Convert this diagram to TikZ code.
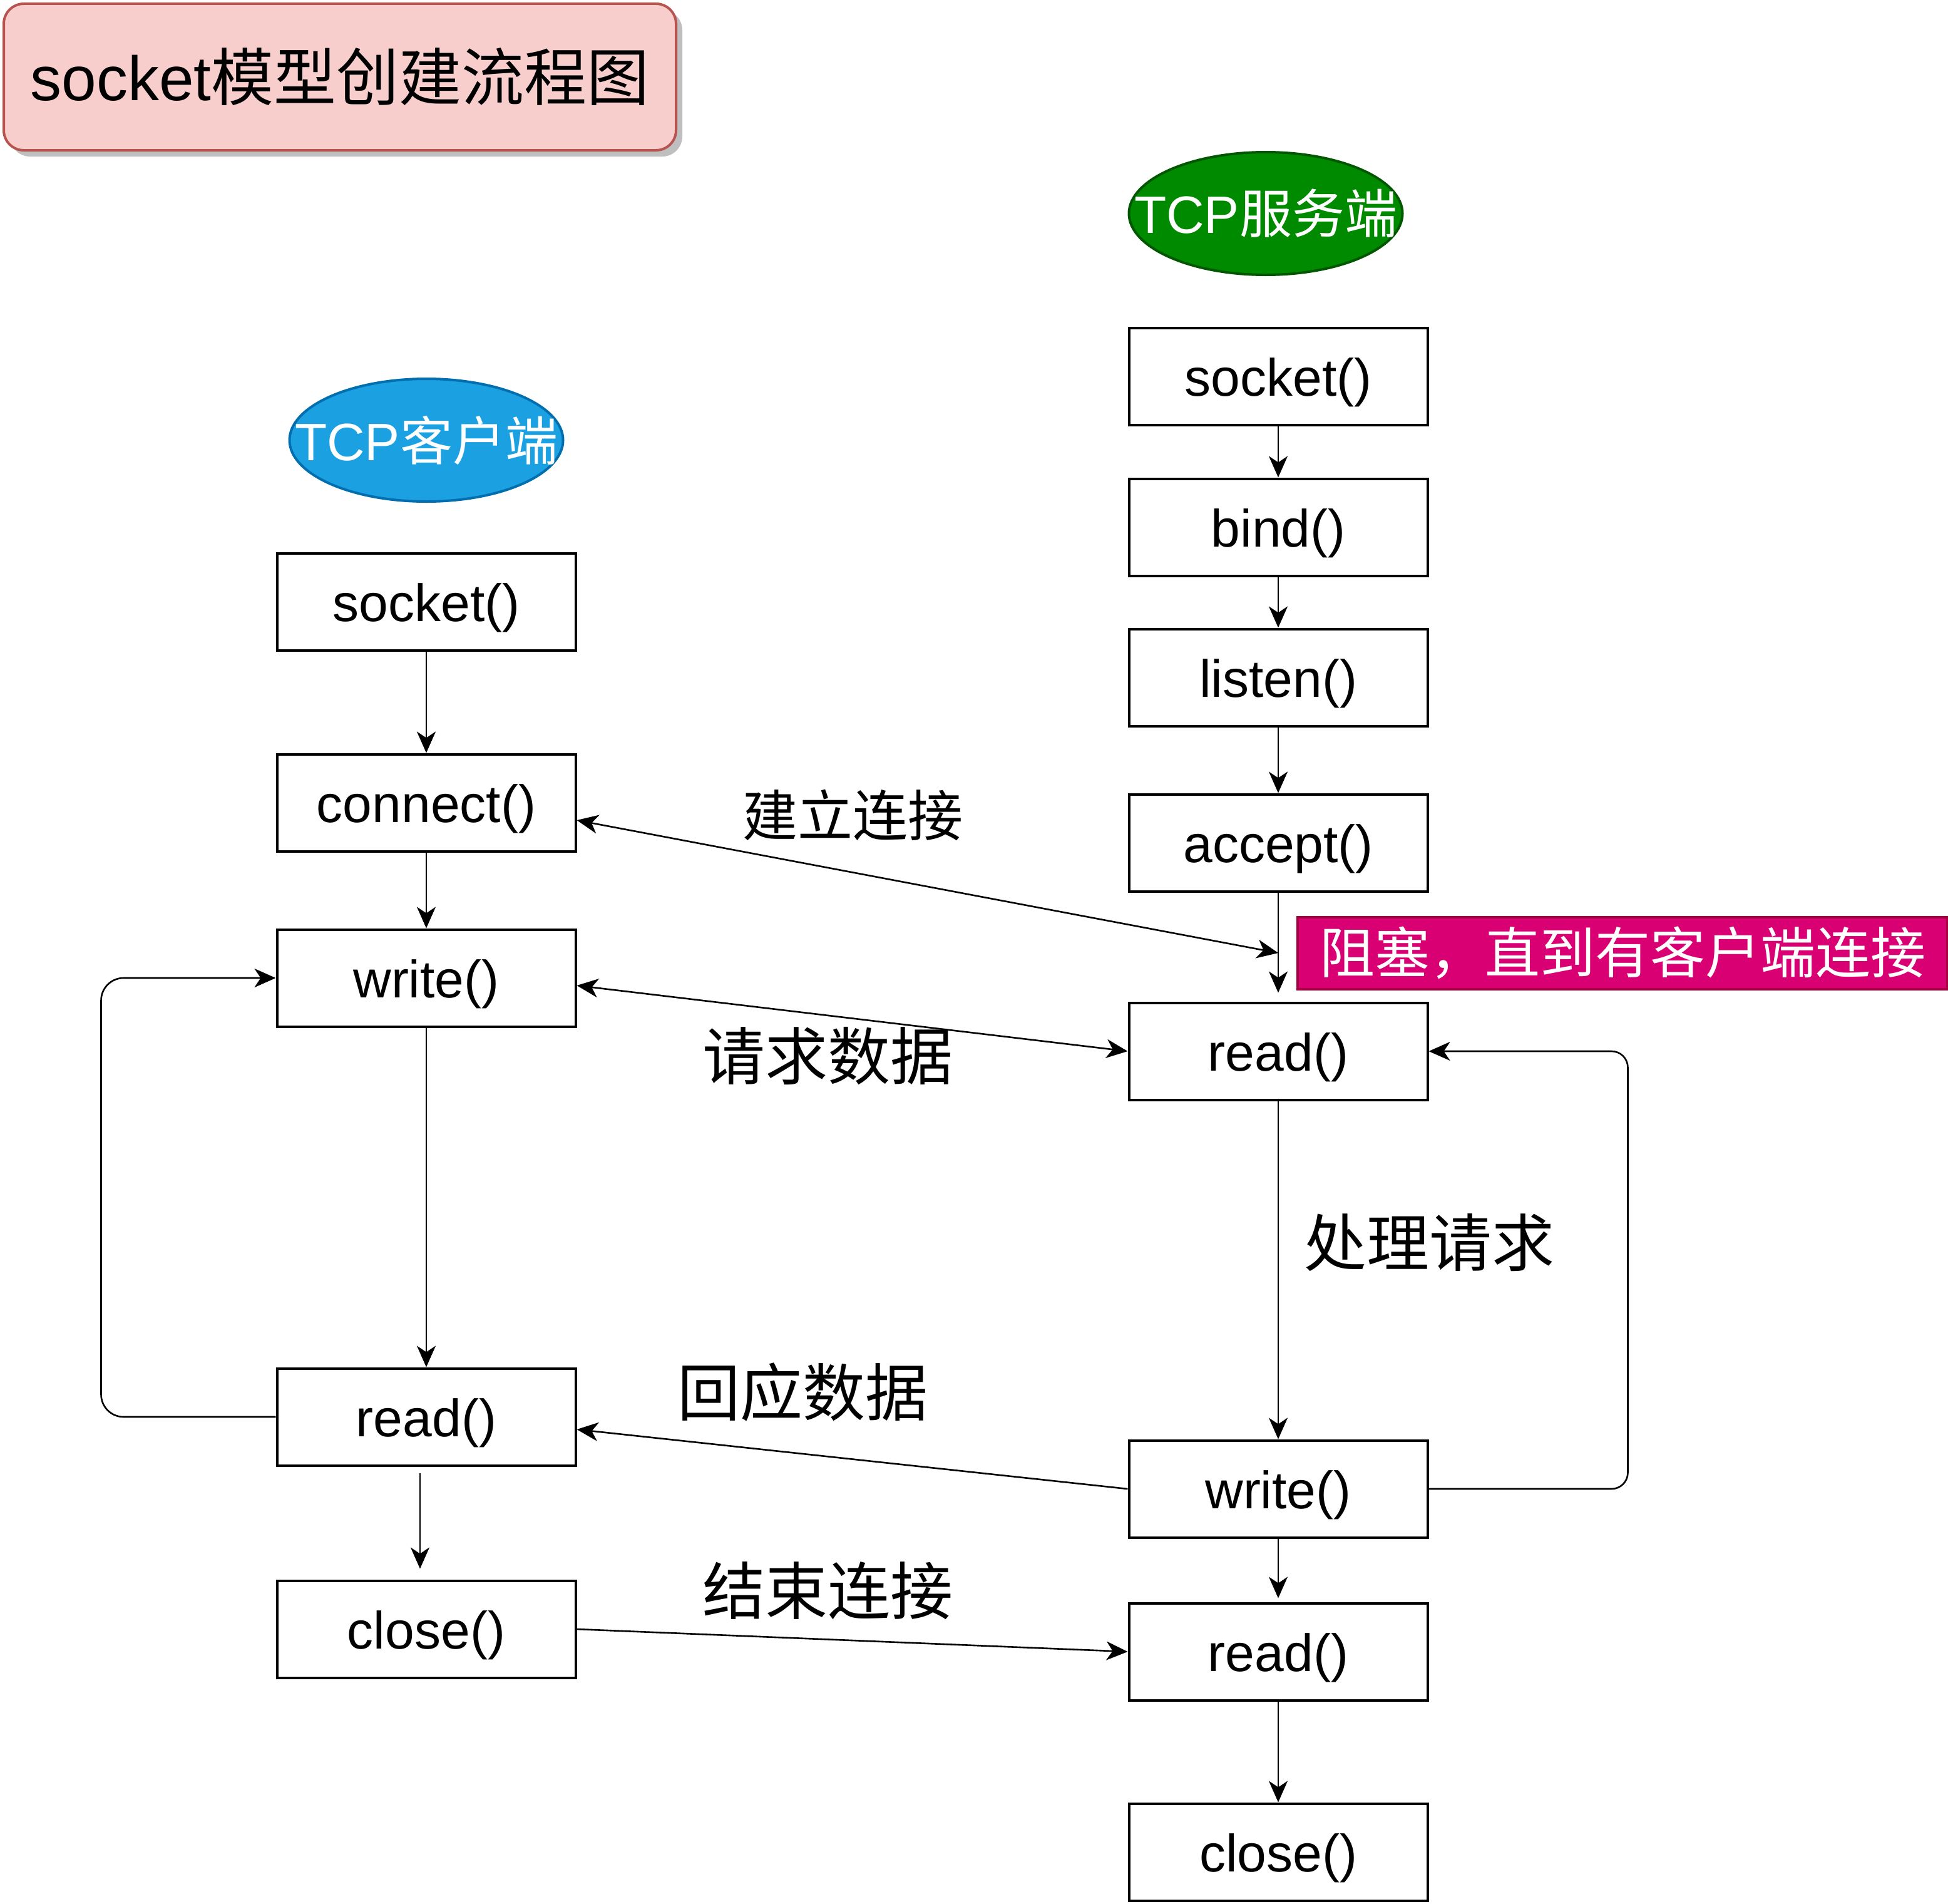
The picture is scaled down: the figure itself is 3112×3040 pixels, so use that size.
\documentclass[tikz,border=0pt]{standalone}
\usepackage{fontspec}
\setmainfont{Liberation Sans}
\newfontfamily\cjk{Noto Sans CJK SC}
\usetikzlibrary{arrows.meta,shapes.geometric,calc,shadows}
\definecolor{titleFill}{HTML}{F8CECC}
\definecolor{titleDraw}{HTML}{B85450}
\definecolor{srvFill}{HTML}{008A00}
\definecolor{srvDraw}{HTML}{005700}
\definecolor{cliFill}{HTML}{1BA1E2}
\definecolor{cliDraw}{HTML}{006EAF}
\definecolor{noteFill}{HTML}{D80073}
\definecolor{noteDraw}{HTML}{A50040}
\begin{document}
\begin{tikzpicture}[x=1pt,y=-1pt,
  box/.style={draw=black,line width=4pt,fill=white,minimum width=477pt,minimum height=155pt,inner sep=0pt,
    text height=81pt,text depth=18pt,font=\fontsize{84pt}{100pt}\selectfont},
  tip/.tip={Stealth[length=34pt,width=30pt,inset=10pt]},
  conn/.style={line width=2.6pt,-tip},
  lbl/.style={font=\cjk\fontsize{100pt}{110pt}\selectfont,inner sep=0pt},
  oval/.style={ellipse,line width=4pt,minimum width=437pt,minimum height=196pt,inner sep=0pt},
  ovaltext/.style={text=white,inner sep=0pt,font=\fontsize{84pt}{100pt}\selectfont}
]
\useasboundingbox (0,0) rectangle (3112,3040);

% title
\node[draw=titleDraw,fill=titleFill,line width=4pt,rounded corners=32pt,
      minimum width=1074pt,minimum height=234pt,inner sep=0pt,
      drop shadow={shadow xshift=10pt,shadow yshift=-10pt,fill=black!25,opacity=1},
      font=\fontsize{100pt}{110pt}\selectfont] (title) at (543,123) {socket{\cjk 模型创建流程图}};

% ellipses
\node[oval,draw=srvDraw,fill=srvFill] (srv) at (2022,341) {};
\node[ovaltext] at (srv) {TCP{\cjk 服务端}};
\node[oval,draw=cliDraw,fill=cliFill] (cli) at (681,703) {};
\node[ovaltext] at (cli) {TCP{\cjk 客户端}};

% server boxes
\node[box] (ss) at (2042,601) {socket()};
\node[box] (sb) at (2042,842) {bind()};
\node[box] (sl) at (2042,1082) {listen()};
\node[box] (sa) at (2042,1346) {accept()};
\node[box] (sr) at (2042,1679) {read()};
\node[box] (sw) at (2042,2378) {write()};
\node[box] (sr2) at (2042,2638) {read()};
\node[box] (sc) at (2042,2958) {close()};

% client boxes
\node[box] (cs) at (681,961) {socket()};
\node[box] (cc) at (681,1282) {connect()};
\node[box] (cw) at (681,1562) {write()};
\node[box] (cr) at (681,2263) {read()};
\node[box] (cx) at (681,2602) {close()};

% note
\node[draw=noteDraw,fill=noteFill,line width=4pt,minimum width=1038pt,minimum height=115pt,inner sep=0pt,
      text=white,font=\cjk\fontsize{88pt}{100pt}\selectfont] (note) at (2592,1522) {阻塞，直到有客户端连接};

% server connectors
\draw[conn] (ss.south) -- (sb.north);
\draw[conn] (sb.south) -- (sl.north);
\draw[conn] (sl.south) -- (sa.north);
\draw[conn,shorten >=14pt] (sa.south) -- (sr.north);
\draw[conn] (sr.south) -- (sw.north);
\draw[conn,shorten >=6pt] (sw.south) -- (sr2.north);
\draw[conn] (sr2.south) -- (sc.north);
\draw[conn,rounded corners=26pt] (sw.east) -- ++(318,0) |- (sr.east);

% client connectors
\draw[conn] (cs.south) -- (cc.north);
\draw[conn] (cc.south) -- (cw.north);
\draw[conn] (cw.south) -- (cr.north);
\draw[conn] ($(cr.south)+(-10,10)$) -- ($(cx.north)+(-10,-17)$);
\draw[conn,rounded corners=36pt] (cr.west) -- ++(-279,0) |- (cw.west);

% cross connectors
\coordinate (blk) at (2042,1522);
\draw[line width=2.6pt,tip-tip] ($(cc.east)+(0,28)$) -- (blk);
\draw[line width=2.6pt,tip-tip] ($(cw.east)+(0,12)$) -- (sr.west);
\draw[conn] (sw.west) -- ($(cr.east)+(0,20)$);
\draw[conn] (cx.east) -- (sr2.west);

% labels
\node[lbl,font=\cjk\fontsize{88pt}{100pt}\selectfont] at (1362,1302) {建立连接};
\node[lbl] at (1322,1687) {请求数据};
\node[lbl] at (2283,1985) {处理请求};
\node[lbl] at (1282,2223) {回应数据};
\node[lbl] at (1322,2541) {结束连接};
\end{tikzpicture}
\end{document}
